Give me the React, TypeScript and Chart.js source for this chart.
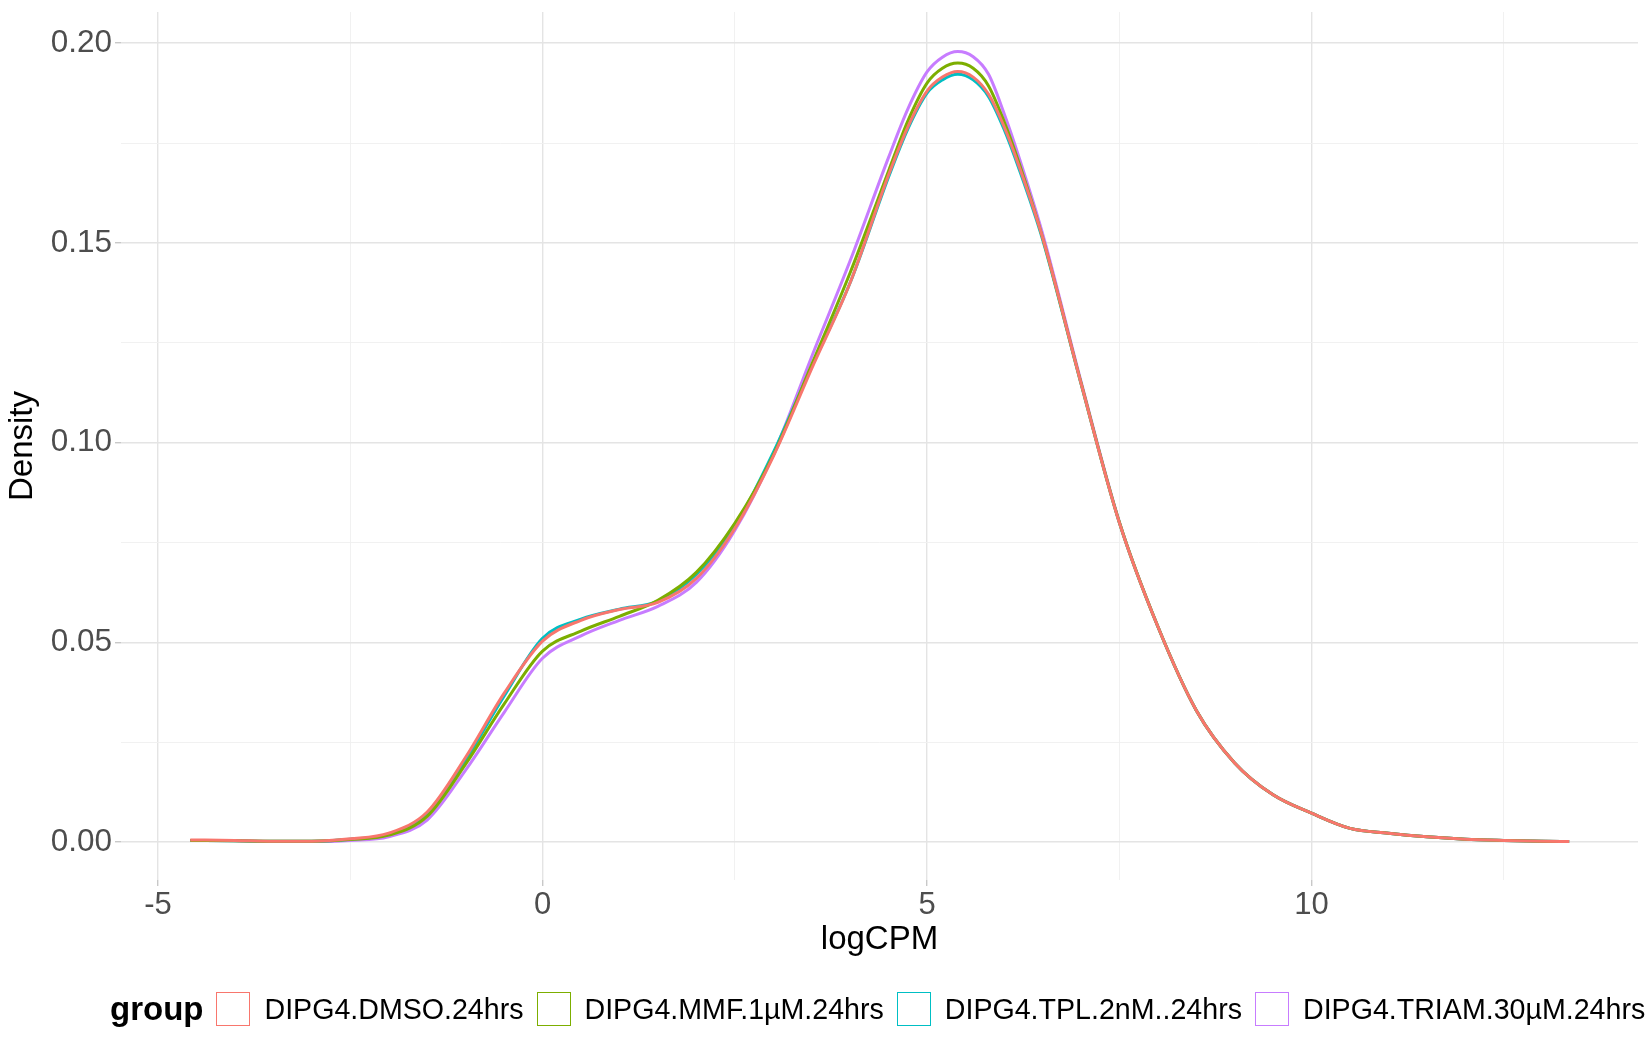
import { useEffect, useRef } from 'react';
import { Chart, registerables } from 'chart.js';

Chart.register(...registerables);

const FONT = "'Liberation Sans', Arial, Helvetica, sans-serif";

// logCPM grid the densities were read at
const logCPM = [
  -4.58, -4, -3.5, -3, -2.5, -2, -1.5, -1, -0.5, 0, 0.5, 1, 1.5, 2, 2.5, 3, 3.5, 4, 4.5, 4.75,
  5, 5.2, 5.4, 5.6, 5.8, 6, 6.2, 6.5, 7, 7.5, 8, 8.5, 9, 9.5, 10, 10.5, 11, 11.5, 12, 12.5, 13,
  13.35,
];

const dmso = [
  0.0005, 0.0004, 0.0002, 0.0002, 0.0008, 0.0022, 0.0075, 0.0212, 0.0372, 0.0503, 0.0555, 0.0582,
  0.06, 0.066, 0.0785, 0.0965, 0.1185, 0.14, 0.167, 0.179, 0.188, 0.1915, 0.1929, 0.1915,
  0.1872, 0.1792, 0.169, 0.1515, 0.115, 0.08, 0.054, 0.033, 0.0198, 0.0118, 0.0072, 0.0034, 0.0022,
  0.0013, 0.0007, 0.0004, 0.0002, 0.0001,
];

const mmf = [
  0.0004, 0.0003, 0.0002, 0.0002, 0.0006, 0.0017, 0.0064, 0.0195, 0.0345, 0.0478, 0.0528, 0.0565,
  0.0605, 0.0675, 0.0798, 0.0968, 0.1195, 0.1425, 0.168, 0.1805, 0.19, 0.1937, 0.195, 0.1937,
  0.1893, 0.1805, 0.1698, 0.1515, 0.1151, 0.0801, 0.054, 0.033, 0.0198, 0.0118, 0.0072, 0.0034,
  0.0022, 0.0013, 0.0007, 0.0004, 0.0002, 0.0001,
];

const tpl = [
  0.0004, 0.0003, 0.0002, 0.0002, 0.0007, 0.0019, 0.0068, 0.0205, 0.0365, 0.051, 0.0558, 0.0583,
  0.0603, 0.067, 0.079, 0.0975, 0.119, 0.14, 0.1665, 0.1785, 0.1875, 0.1908, 0.1922, 0.1908,
  0.1866, 0.1785, 0.1683, 0.151, 0.1149, 0.08, 0.054, 0.033, 0.0198, 0.0118, 0.0072, 0.0034,
  0.0022, 0.0013, 0.0007, 0.0004, 0.0002, 0.0001,
];

const triam = [
  0.0004, 0.0003, 0.0001, 0.0001, 0.0004, 0.0013, 0.0055, 0.018, 0.0324, 0.046, 0.0516, 0.0555,
  0.059, 0.065, 0.078, 0.097, 0.1215, 0.1455, 0.1714, 0.1835, 0.1928, 0.1965, 0.1979, 0.1966,
  0.1922, 0.1825, 0.1712, 0.1525, 0.1155, 0.0802, 0.054, 0.033, 0.0198, 0.0118, 0.0072, 0.0034,
  0.0022, 0.0013, 0.0007, 0.0004, 0.0002, 0.0001,
];

const groupNames = ['DIPG4.DMSO.24hrs', 'DIPG4.MMF.1µM.24hrs', 'DIPG4.TPL.2nM..24hrs', 'DIPG4.TRIAM.30µM.24hrs'];
const groupColors = ['#F8766D', '#7CAE00', '#00BFC4', '#C77CFF'];
const groupValues = [dmso, mmf, tpl, triam];

const xTicks = [-5, -2.5, 0, 2.5, 5, 7.5, 10, 12.5];
const xMajor = [-5, 0, 5, 10];
const yTicks = [0, 0.025, 0.05, 0.075, 0.1, 0.125, 0.15, 0.175, 0.2];
const yMajor = [0, 0.05, 0.1, 0.15, 0.2];

const isMajor = (list: number[], v: number) => list.some((m) => Math.abs(m - v) < 1e-9);

function DensityChart() {
  const canvasRef = useRef<HTMLCanvasElement>(null);
  const chartRef = useRef<Chart | null>(null);

  useEffect(() => {
    if (!canvasRef.current) return;
    if (chartRef.current) chartRef.current.destroy();

    chartRef.current = new Chart(canvasRef.current, {
      type: 'line',
      data: {
        datasets: groupNames.map((name, i) => ({
          label: name,
          data: logCPM.map((x, j) => ({ x, y: groupValues[i][j] })),
          borderColor: groupColors[i],
          borderWidth: 3,
          pointRadius: 0,
          fill: false,
          cubicInterpolationMode: 'monotone' as const,
        })),
      },
      options: {
        animation: false,
        responsive: true,
        maintainAspectRatio: false,
        layout: { padding: { top: 12, right: 12, bottom: 80, left: 0 } },
        plugins: {
          legend: { display: false },
          tooltip: { enabled: false },
        },
        scales: {
          x: {
            type: 'linear',
            min: -5.481,
            max: 14.245,
            afterBuildTicks: (s) => {
              s.ticks = xTicks.map((value) => ({ value }));
            },
            afterFit: (s: any) => {
              s.height = 90;
              s.paddingLeft = 0;
              s.paddingRight = 0;
            },
            border: { display: false },
            grid: {
              color: (c) => (isMajor(xMajor, c.tick.value) ? '#E4E4E4' : '#EFEFEF'),
              lineWidth: (c) => (isMajor(xMajor, c.tick.value) ? 1.4 : 0.9),
              tickLength: 6,
              tickColor: (c) => (isMajor(xMajor, c.tick.value) ? '#C8C8C8' : 'rgba(0,0,0,0)'),
            },
            ticks: {
              autoSkip: false,
              maxRotation: 0,
              padding: 4,
              color: '#4D4D4D',
              font: { family: FONT, size: 31, lineHeight: 1 },
              callback: (v) => (isMajor(xMajor, Number(v)) ? String(v) : ''),
            },
            title: {
              display: true,
              text: 'logCPM',
              color: '#000000',
              font: { family: FONT, size: 33 },
              padding: { top: 0, bottom: 10 },
            },
          },
          y: {
            type: 'linear',
            min: -0.00952,
            max: 0.2078,
            afterBuildTicks: (s) => {
              s.ticks = yTicks.map((value) => ({ value }));
            },
            afterFit: (s: any) => {
              s.width = 121;
              s.paddingTop = 0;
              s.paddingBottom = 0;
            },
            border: { display: false },
            grid: {
              color: (c) => (isMajor(yMajor, c.tick.value) ? '#E4E4E4' : '#EFEFEF'),
              lineWidth: (c) => (isMajor(yMajor, c.tick.value) ? 1.4 : 0.9),
              tickLength: 6,
              tickColor: (c) => (isMajor(yMajor, c.tick.value) ? '#C8C8C8' : 'rgba(0,0,0,0)'),
            },
            ticks: {
              autoSkip: false,
              padding: 3,
              color: '#4D4D4D',
              font: { family: FONT, size: 31.5, lineHeight: 1 },
              callback: (v) => (isMajor(yMajor, Number(v)) ? Number(v).toFixed(2) : ''),
            },
            title: {
              display: true,
              text: 'Density',
              color: '#000000',
              font: { family: FONT, size: 33 },
              padding: { top: 3, bottom: 0 },
            },
          },
        },
      },
    });

    return () => {
      if (chartRef.current) {
        chartRef.current.destroy();
        chartRef.current = null;
      }
    };
  }, []);

  return <canvas ref={canvasRef}></canvas>;
}

function Legend() {
  return (
    <div
      style={{
        position: 'fixed',
        left: 110,
        top: 990,
        height: 38,
        display: 'flex',
        alignItems: 'center',
        whiteSpace: 'nowrap',
        fontFamily: FONT,
        color: '#000000',
      }}
    >
      <span style={{ fontWeight: 'bold', fontSize: 33, marginRight: 13 }}>group</span>
      {groupNames.map((name, i) => (
        <span key={name} style={{ display: 'flex', alignItems: 'center' }}>
          <span
            style={{
              display: 'inline-block',
              width: 34,
              height: 34,
              boxSizing: 'border-box',
              border: `1.5px solid ${groupColors[i]}`,
              marginRight: 14,
            }}
          />
          <span style={{ fontSize: 28.6, marginRight: 13 }}>{name}</span>
        </span>
      ))}
    </div>
  );
}

export default function App() {
  return (
    <div style={{ position: 'fixed', left: 0, top: 0, width: 1650, height: 1050, background: '#ffffff' }}>
      <DensityChart />
      <Legend />
    </div>
  );
}
